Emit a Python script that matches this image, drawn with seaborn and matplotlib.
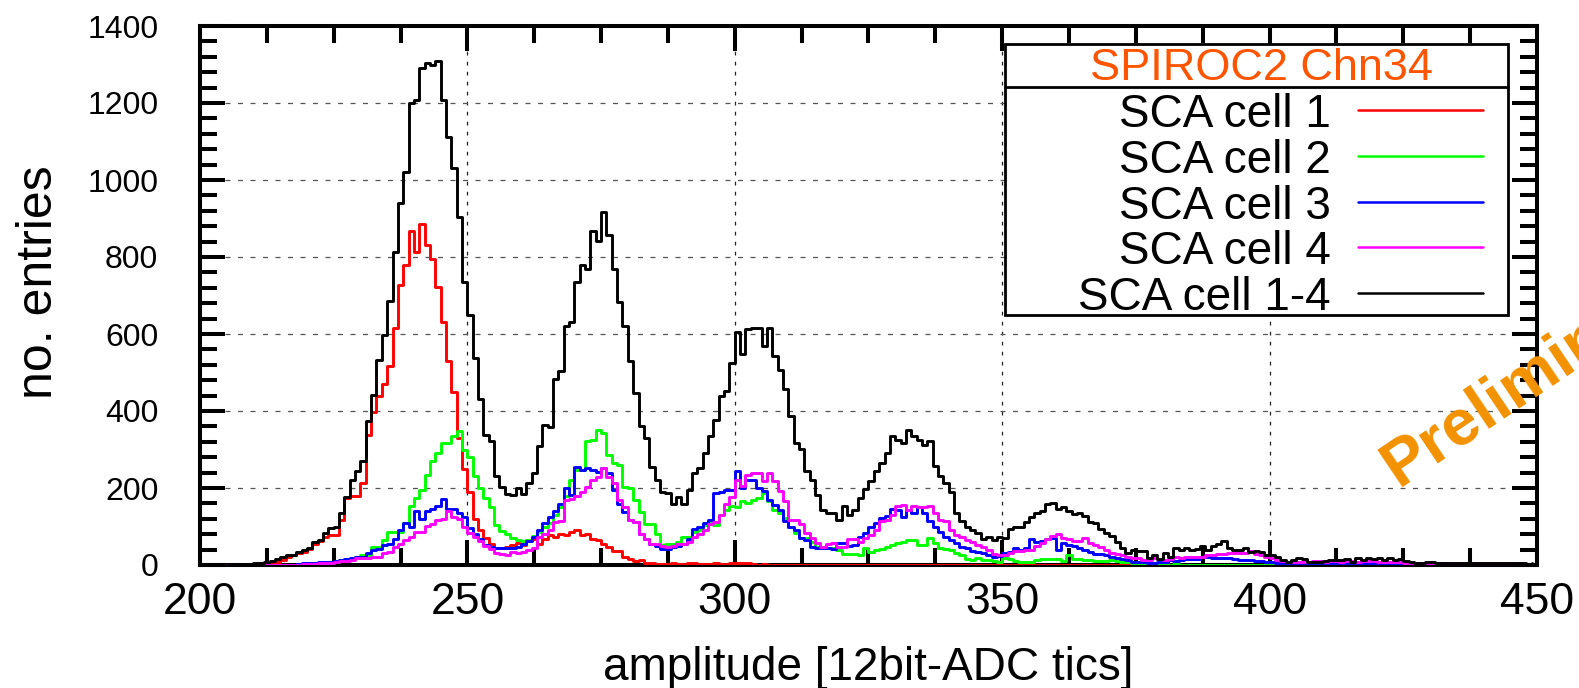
import numpy as np
import pandas as pd
import matplotlib
matplotlib.use("Agg")
import matplotlib.pyplot as plt
import seaborn as sns
from matplotlib.ticker import MultipleLocator
from matplotlib.lines import Line2D
from matplotlib.patches import Rectangle

# ---------------- data (one value per 1-tic bin, bins 205 ... 449) ----------------
bin_start = 205

cell1 = ([0, 0, 0, 0, 0, 0, 0, 2, 4, 8,
          12, 20, 25, 30, 35, 42, 55, 63, 72, 79,
          79, 117, 173, 179, 179, 212, 338, 397, 438, 469,
          516, 616, 727, 778, 868, 814, 886, 830, 794, 722,
          630, 530, 450, 330, 250, 190, 120, 90, 70, 55,
          45, 44, 48, 53, 56, 52, 64, 68, 55, 68,
          77, 72, 81, 77, 85, 90, 77, 81, 68, 64,
          55, 46, 37, 37, 20, 16, 11, 13, 6, 4,
          3, 2, 3, 5, 3, 2, 4, 6, 3, 2,
          3, 4, 2, 3, 5, 6, 5, 4, 2, 1,
          2, 1, 0, 1, 0, 0, 0, 1, 0, 0]
         + [0] * 135)

cell2 = ([0, 0, 0, 0, 0, 0, 0, 0, 0, 0,
          0, 0, 0, 1, 1, 2, 2, 2, 3, 5,
          8, 13, 13, 15, 22, 26, 26, 48, 48, 65,
          87, 87, 87, 109, 153, 174, 194, 235, 270, 292,
          316, 318, 334, 349, 300, 280, 230, 200, 175, 150,
          105, 88, 80, 70, 65, 62, 65, 75, 85, 98,
          110, 129, 150, 179, 220, 248, 248, 321, 325, 351,
          344, 286, 264, 260, 203, 199, 168, 138, 107, 107,
          81, 53, 55, 55, 59, 72, 72, 85, 90, 103,
          111, 103, 129, 142, 152, 150, 165, 160, 170, 175,
          186, 165, 143, 135, 121, 100, 82, 69, 69, 61,
          48, 48, 43, 43, 40, 29, 29, 29, 26, 43,
          35, 39, 41, 46, 52, 56, 61, 65, 65, 52,
          52, 69, 56, 43, 41, 38, 30, 26, 15, 13,
          17, 13, 13, 10, 9, 18, 15, 10, 9, 8,
          9, 12, 15, 16, 16, 16, 10, 25, 16, 16,
          14, 13, 11, 11, 11, 13, 10, 7, 7, 6,
          4, 4, 3, 3, 2, 2, 1, 2, 1, 1,
          1, 1, 0, 1, 1, 0, 1, 0, 0, 1,
          0, 1, 0, 0, 0, 0, 0, 0, 0, 0]
         + [0] * 45)

cell3 = [0, 0, 0, 0, 0, 0, 0, 0, 0, 0,
         0, 0, 0, 3, 4, 5, 6, 9, 9, 9,
         10, 12, 15, 17, 20, 22, 31, 39, 42, 52,
         55, 67, 92, 109, 100, 139, 119, 139, 146, 153,
         172, 146, 146, 135, 125, 96, 80, 68, 52, 48,
         45, 43, 45, 44, 48, 55, 62, 72, 90, 110,
         125, 140, 158, 200, 181, 255, 248, 253, 248, 242,
         253, 238, 194, 159, 138, 116, 111, 81, 68, 55,
         50, 42, 42, 48, 50, 55, 68, 94, 98, 109,
         118, 186, 190, 194, 194, 243, 200, 222, 220, 200,
         191, 170, 157, 142, 113, 100, 91, 70, 65, 48,
         43, 43, 43, 41, 57, 58, 50, 53, 72, 83,
         100, 110, 122, 128, 145, 143, 124, 143, 135, 150,
         135, 113, 100, 87, 72, 65, 57, 48, 43, 37,
         33, 30, 26, 22, 24, 31, 33, 45, 40, 45,
         67, 61, 63, 67, 70, 38, 58, 52, 49, 45,
         38, 34, 29, 29, 25, 20, 18, 16, 12, 9,
         9, 8, 6, 6, 7, 9, 13, 10, 14, 16,
         16, 16, 20, 20, 19, 18, 18, 17, 15, 13,
         13, 12, 11, 10, 8, 7, 6, 6, 5, 6,
         5, 6, 5, 4, 5, 6, 5, 4, 5, 6,
         4, 5, 4, 3, 4, 5, 4, 3, 4, 3,
         2, 3, 2, 2, 1, 2, 1, 1, 2, 1,
         1, 1, 0, 1, 1, 0, 1, 0, 0, 1,
         0, 0, 1, 0, 0]

cell4 = [0, 0, 0, 0, 0, 0, 0, 0, 0, 0,
         0, 0, 0, 1, 2, 2, 3, 4, 5, 6,
         7, 10, 10, 12, 17, 17, 17, 20, 22, 31,
         35, 48, 55, 65, 74, 87, 87, 102, 107, 118,
         119, 139, 125, 119, 100, 82, 72, 62, 50, 42,
         32, 28, 25, 34, 30, 35, 39, 45, 72, 81,
         90, 112, 115, 168, 172, 179, 190, 203, 222, 229,
         251, 229, 212, 168, 151, 116, 111, 81, 68, 55,
         55, 50, 46, 50, 55, 55, 59, 72, 81, 90,
         107, 111, 129, 159, 177, 222, 204, 235, 239, 239,
         217, 239, 217, 191, 165, 117, 117, 107, 83, 70,
         57, 48, 55, 58, 46, 46, 67, 67, 61, 70,
         78, 91, 113, 116, 130, 154, 157, 142, 154, 150,
         150, 152, 135, 117, 113, 91, 78, 72, 65, 61,
         52, 46, 39, 29, 27, 27, 30, 36, 36, 40,
         40, 49, 58, 67, 76, 81, 70, 67, 63, 63,
         70, 58, 52, 47, 38, 31, 28, 25, 20, 18,
         18, 13, 13, 18, 15, 13, 15, 22, 18, 20,
         21, 20, 22, 25, 27, 29, 29, 31, 30, 31,
         31, 36, 28, 25, 20, 18, 13, 10, 9, 9,
         8, 8, 9, 10, 11, 9, 10, 11, 9, 10,
         11, 9, 10, 11, 10, 9, 8, 8, 9, 8,
         6, 4, 4, 3, 4, 3, 3, 4, 3, 2,
         3, 2, 2, 3, 2, 2, 1, 2, 2, 1,
         1, 2, 1, 1, 1]

cell_all = [0, 0, 2, 3, 3, 4, 5, 8, 10, 16,
            22, 27, 27, 35, 38, 45, 59, 65, 83, 97,
            100, 135, 176, 221, 244, 271, 375, 442, 532, 598,
            686, 814, 939, 1022, 1200, 1209, 1290, 1305, 1300, 1308,
            1207, 1112, 1031, 904, 736, 650, 538, 431, 338, 323,
            231, 203, 185, 181, 199, 185, 212, 238, 309, 364,
            358, 482, 503, 621, 632, 734, 780, 769, 867, 841,
            917, 856, 769, 682, 621, 530, 447, 360, 329, 255,
            220, 190, 186, 159, 177, 159, 194, 240, 251, 290,
            335, 377, 438, 453, 525, 605, 549, 613, 616, 616,
            570, 616, 544, 506, 457, 388, 318, 301, 243, 221,
            182, 143, 134, 134, 117, 153, 130, 143, 173, 197,
            217, 243, 265, 290, 334, 325, 317, 351, 334, 325,
            312, 321, 258, 230, 213, 189, 135, 113, 100, 91,
            84, 67, 72, 65, 72, 70, 94, 100, 100, 112,
            125, 134, 139, 159, 160, 145, 150, 139, 132, 136,
            126, 112, 108, 94, 83, 76, 60, 45, 30, 38,
            36, 36, 18, 27, 16, 31, 22, 45, 40, 45,
            40, 42, 49, 38, 49, 54, 63, 43, 40, 38,
            43, 34, 36, 34, 27, 27, 20, 13, 9, 13,
            18, 16, 9, 7, 9, 11, 13, 13, 13, 16,
            9, 18, 13, 18, 16, 18, 13, 18, 14, 16,
            10, 9, 6, 6, 9, 9, 6, 6, 5, 6,
            5, 6, 5, 4, 4, 5, 4, 5, 6, 4,
            5, 5, 4, 3, 4]

series_labels = ["SCA cell 1", "SCA cell 2", "SCA cell 3", "SCA cell 4", "SCA cell 1-4"]
series_colors = ["#ff0000", "#00ff00", "#0000ff", "#ff00ff", "#000000"]
legend_title = "SPIROC2 Chn34"
x_label = "amplitude [12bit-ADC tics]"
y_label = "no. entries"
watermark = "Preliminary"

series_values = [cell1, cell2, cell3, cell4, cell_all]
frames = []
for lab, vals in zip(series_labels, series_values):
    frames.append(pd.DataFrame({
        "amplitude": np.arange(bin_start, bin_start + len(vals)),
        "entries": vals,
        "series": lab,
    }))
df = pd.concat(frames, ignore_index=True)

# ---------------- style ----------------
sns.set_style("white")
plt.rcParams["font.family"] = ["Liberation Sans", "DejaVu Sans"]
plt.rcParams["text.color"] = "black"
plt.rcParams["axes.labelcolor"] = "black"
plt.rcParams["xtick.color"] = "black"
plt.rcParams["ytick.color"] = "black"

W, H = 1579, 688
fig = plt.figure(figsize=(W / 100, H / 100), dpi=100)
ax_l, ax_r, ax_t, ax_b = 200, 1537, 26, 565
ax = fig.add_axes([ax_l / W, 1 - ax_b / H, (ax_r - ax_l) / W, (ax_b - ax_t) / H])

# draw order: total first, then single cells on top
draw_order = [4, 0, 1, 2, 3]
for i in draw_order:
    sub = df[df["series"] == series_labels[i]]
    sns.lineplot(data=sub, x="amplitude", y="entries", color=series_colors[i],
                 drawstyle="steps-post", linewidth=2.1, estimator=None,
                 legend=False, ax=ax, zorder=3 + i)

ax.set_xlim(200, 450)
ax.set_ylim(0, 1400)
ax.xaxis.set_major_locator(MultipleLocator(50))
ax.xaxis.set_minor_locator(MultipleLocator(12.5))
ax.yaxis.set_major_locator(MultipleLocator(200))
ax.yaxis.set_minor_locator(MultipleLocator(40))

ax.set_axisbelow(True)
ax.yaxis.grid(True, which="major", color="#555555", linestyle=(0, (4, 6)), linewidth=0.9)
ax.xaxis.grid(True, which="major", color="#222222", linestyle=(0, (3, 5)), linewidth=0.9)

for sp in ax.spines.values():
    sp.set_visible(True)
    sp.set_color("black")
    sp.set_linewidth(2.9)

ax.tick_params(which="both", direction="in", top=True, right=True,
               bottom=True, left=True, color="black", width=2.9)
ax.tick_params(which="major", length=18)
ax.tick_params(which="minor", length=12)
ax.tick_params(axis="x", which="major", labelsize=32, pad=12, labelcolor="black")
ax.tick_params(axis="y", which="major", labelsize=23, pad=30, labelcolor="black")

ax.set_xlabel(x_label, fontsize=33, va="top", color="black")
ax.set_ylabel(y_label, fontsize=36, va="bottom", color="black")
ax.xaxis.set_label_coords(0.5, -0.15)
ax.yaxis.set_label_coords(-0.103, 0.525)

# ---------------- legend box (gnuplot style) ----------------
def fx(px):
    return px / W

def fy(py):
    return 1 - py / H

box_l, box_r, box_t, box_b, sep_y = 1005, 1508, 43.5, 315, 86.5
fig.add_artist(Rectangle((fx(box_l), fy(box_b)), fx(box_r) - fx(box_l), fy(box_t) - fy(box_b),
                         transform=fig.transFigure, facecolor="white", edgecolor="black",
                         linewidth=2.0, zorder=10))
fig.add_artist(Line2D([fx(box_l), fx(box_r)], [fy(sep_y), fy(sep_y)],
                      transform=fig.transFigure, color="black", linewidth=2.0, zorder=11))
fig.text(fx(1262), fy(80), legend_title, ha="center", va="baseline",
         color="#ff5500", fontsize=32.5, zorder=12)

row_line_y = [110, 156, 201.7, 247.3, 293.3]
for lab, col, yl in zip(series_labels, series_colors, row_line_y):
    fig.text(fx(1331), fy(yl + 17), lab, ha="right", va="baseline",
             color="black", fontsize=33, zorder=12)
    fig.add_artist(Line2D([fx(1358), fx(1483)], [fy(yl), fy(yl)],
                          transform=fig.transFigure, color=col, linewidth=1.8, zorder=12))

# ---------------- watermark ----------------
fig.text(fx(1398), fy(487), watermark, rotation=34, rotation_mode="anchor",
         ha="left", va="baseline", color="#f39200", fontsize=47,
         fontweight="bold", zorder=20)

fig.savefig("out.png", dpi=100)
